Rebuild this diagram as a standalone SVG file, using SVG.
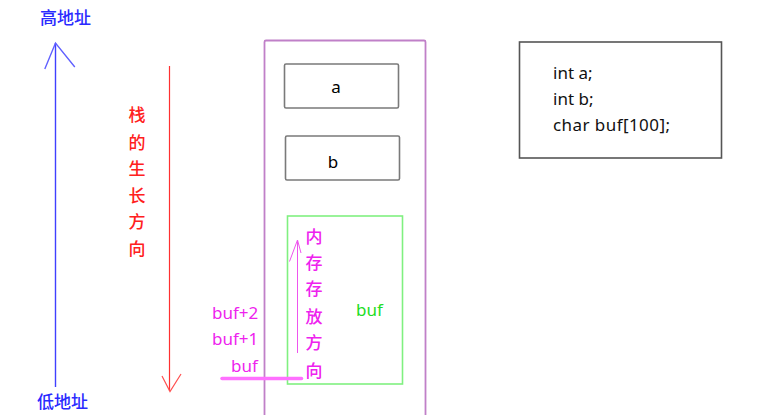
<svg xmlns="http://www.w3.org/2000/svg" width="766" height="415" viewBox="0 0 766 415">
<style>
.cjk{font-family:"Noto Sans CJK SC","Noto Sans",sans-serif;font-size:17px;font-weight:500}
.lat{font-family:"Noto Sans","Liberation Sans",sans-serif;font-size:17px}
.blue{fill:#2a2aff}
.red{fill:#ff2020}
.pink{fill:#ee22ee}
.box{fill:none;stroke:#7a7a7a;stroke-width:1.6}
</style>
<rect width="766" height="415" fill="#ffffff"/>
<g id="high-addr"><text class="cjk blue" x="40" y="24">高地址</text></g>
<g id="low-addr"><text class="cjk blue" x="37" y="408">低地址</text></g>
<g id="stack-dir"><text class="cjk red" text-anchor="middle" x="137">
<tspan x="137" y="121">栈</tspan><tspan x="137" y="149">的</tspan><tspan x="137" y="175">生</tspan><tspan x="137" y="202">长</tspan><tspan x="137" y="228">方</tspan><tspan x="137" y="255">向</tspan></text></g>
<g id="stack-frame"><rect x="264.5" y="40.5" width="161" height="390" rx="1.5" fill="none" stroke="#c080c8" stroke-width="1.8"/></g>
<g id="var-a"><rect class="box" x="284.5" y="64" width="114" height="44" rx="1.5"/><text class="lat" x="336" y="93" text-anchor="middle" fill="#000">a</text></g>
<g id="var-b"><rect class="box" x="285.5" y="136" width="114" height="44" rx="1.5"/><text class="lat" x="333" y="168" text-anchor="middle" fill="#000">b</text></g>
<g id="buf-box"><rect x="287.5" y="216" width="115" height="168" fill="none" stroke="#80f080" stroke-width="1.6"/><text class="lat" x="356" y="316" fill="#22dd22">buf</text></g>
<g id="mem-dir"><text class="cjk pink" text-anchor="middle">
<tspan x="314" y="243">内</tspan><tspan x="314" y="269">存</tspan><tspan x="314" y="295">存</tspan><tspan x="314" y="323">放</tspan><tspan x="314" y="349">方</tspan><tspan x="314" y="377">向</tspan></text></g>
<g id="buf-labels"><text class="lat pink" x="212" y="319">buf+2</text><text class="lat pink" x="212" y="345">buf+1</text><text class="lat pink" x="231" y="372">buf</text></g>
<g id="code-box"><rect x="519.5" y="42" width="202" height="116" fill="none" stroke="#555" stroke-width="1.6"/>
<text class="lat" fill="#111" x="553" y="79">int a;</text><text class="lat" fill="#111" x="553" y="105">int b;</text><text class="lat" fill="#111" x="553" y="131" textLength="117">char buf[100];</text></g>
<g id="connectors" fill="none">
<path d="M55.5 387V43" stroke="#4040ff" stroke-width="1.4"/>
<path d="M44.8 69L55.5 43L74.8 67" stroke="#6060ff" stroke-width="1.4"/>
<path d="M169.5 66V391" stroke="#ff3030" stroke-width="1.2"/>
<path d="M162 376L170 391.5L181 374" stroke="#ff5050" stroke-width="1.2"/>
<path d="M297.5 353V240" stroke="#ee55ee" stroke-width="1"/>
<path d="M289.5 261.5L297.5 240L301 253" stroke="#ee55ee" stroke-width="1"/>
<path d="M222 378.5H301.5" stroke="#ff70ff" stroke-width="3.5" stroke-linecap="round"/>
</g>
</svg>
